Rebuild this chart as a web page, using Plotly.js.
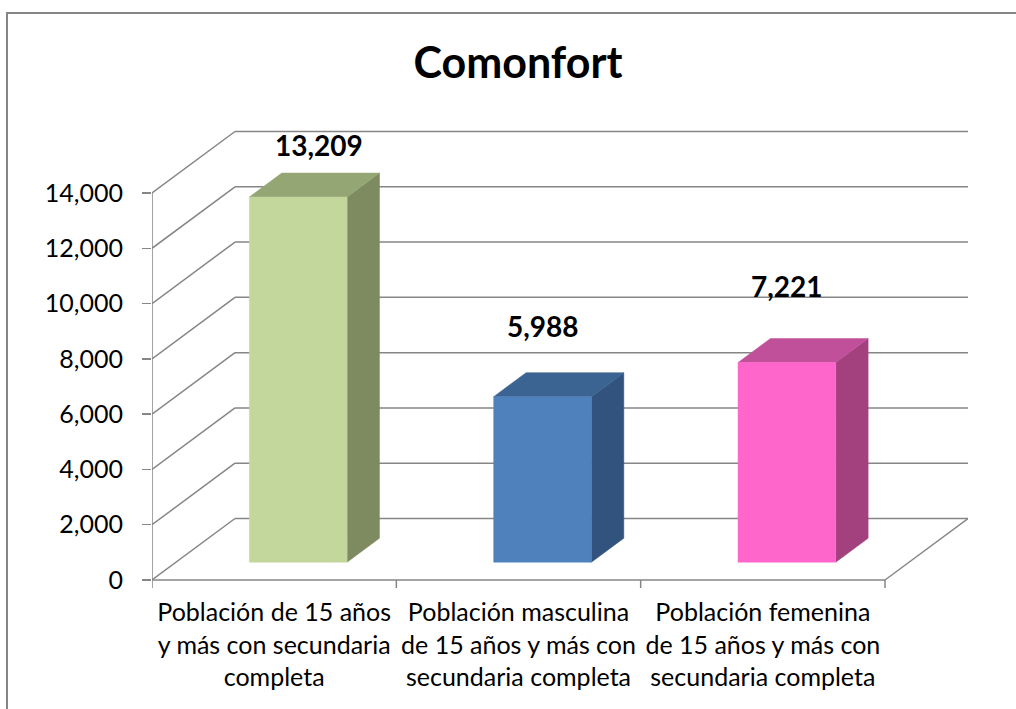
<!DOCTYPE html>
<html>
<head>
<meta charset="utf-8">
<script src="https://cdn.plot.ly/plotly-3.0.1.min.js"></script>
<style>
  html, body { margin: 0; padding: 0; background: #fff; }
  #chart { width: 1016px; height: 709px; }
</style>
</head>
<body>
<div id="chart"></div>
<script>
// ---- data ----
const categories = [
  'Población de 15 años<br>y más con secundaria<br>completa',
  'Población masculina<br>de 15 años y más con<br>secundaria completa',
  'Población femenina<br>de 15 años y más con<br>secundaria completa'
];
const values = [13209, 5988, 7221];
const yTicks = [0, 2000, 4000, 6000, 8000, 10000, 12000, 14000];
const chartTitle = 'Comonfort';

// ---- styles ----
const frontColors = ['#C3D69B', '#4F81BD', '#FF66CC'];
const sideColors  = ['#7E8A60', '#32537E', '#A3417F'];
const topColors   = ['#95A675', '#3C6492', '#C1509A'];
const gridColor = '#868686';
const FONT = 'Lato, "Open Sans", sans-serif';
// label offsets (pixels) above each bar's back top edge
const labelLift = [28, 47, 53];
const labelShiftX = [21, 0, 0];

// ---- geometry (oblique 3D projection) ----
const PX_PER_CAT = 733 / 3;
const K = 387 / 14000;              // px per value unit
const DEPTH_DX = 83 / PX_PER_CAT;   // category units for full depth
const DEPTH_DY = 61.5 / K;          // value units for full depth
const D_FRONT = 0.29, D_BACK = 0.68, HALF = 0.2;
const X0 = -0.5, X1 = categories.length - 0.5;

function P(cx, v, d) { return [cx + d * DEPTH_DX, v + d * DEPTH_DY]; }

const traces = [];

// grid lines
const gx = [], gy = [];
function seg(a, b) { gx.push(a[0], b[0], null); gy.push(a[1], b[1], null); }
const yMax = yTicks[yTicks.length - 1];
yTicks.forEach(v => {
  seg(P(X0, v, 1), P(X1, v, 1));   // back wall
  seg(P(X0, v, 0), P(X0, v, 1));   // left wall diagonal
});
seg(P(X0, 0, 0), P(X1, 0, 0));     // floor front edge
seg(P(X1, 0, 0), P(X1, 0, 1));     // floor right edge
seg(P(X0, 0, 0), P(X0, yMax, 0));  // value axis line
for (let i = 0; i <= categories.length; i++) {
  const b = X0 + i;
  seg(P(b, 0, 0), P(b, -8 / K, 0)); // category tick marks
}
traces.push({ x: gx, y: gy, mode: 'lines', type: 'scatter',
  line: { color: gridColor, width: 1.5 }, hoverinfo: 'skip', showlegend: false });

// bars
function poly(pts, color) {
  const xs = pts.map(p => p[0]), ys = pts.map(p => p[1]);
  xs.push(xs[0]); ys.push(ys[0]);
  traces.push({ x: xs, y: ys, type: 'scatter', mode: 'lines', fill: 'toself',
    fillcolor: color, line: { color: color, width: 0.5 },
    hoverinfo: 'skip', showlegend: false });
}
values.forEach((v, i) => {
  const l = i - HALF, r = i + HALF;
  poly([P(r, 0, D_FRONT), P(r, 0, D_BACK), P(r, v, D_BACK), P(r, v, D_FRONT)], sideColors[i]);
  poly([P(l, v, D_FRONT), P(r, v, D_FRONT), P(r, v, D_BACK), P(l, v, D_BACK)], topColors[i]);
  poly([P(l, 0, D_FRONT), P(r, 0, D_FRONT), P(r, v, D_FRONT), P(l, v, D_FRONT)], frontColors[i]);
});

// data labels
const annotations = values.map((v, i) => {
  const p = P(i, v, D_BACK);
  const pf = P(i, v, D_FRONT);
  return {
    x: pf[0], y: p[1], xref: 'x', yref: 'y',
    text: '<b>' + v.toLocaleString('en-US') + '</b>',
    showarrow: false, xanchor: 'center', yanchor: 'middle',
    xshift: labelShiftX[i], yshift: labelLift[i],
    font: { family: FONT, size: 28, color: '#000' }
  };
});

// plot area in pixels
const L = 152, R = 968, T = 120, B = 590;
const W = 1016, H = 709;
function paperX(px) { return (px - L) / (R - L); }
function paperY(py) { return (B - py) / (B - T); }

const layout = {
  width: W, height: H,
  margin: { l: L, r: W - R, t: T, b: H - B, pad: 0 },
  paper_bgcolor: '#fff', plot_bgcolor: 'rgba(0,0,0,0)',
  showlegend: false,
  title: {
    text: '<b>' + chartTitle + '</b>',
    font: { family: FONT, size: 43, color: '#000' },
    xref: 'container', yref: 'container',
    x: 518 / W, xanchor: 'center', y: 1 - 63 / H, yanchor: 'middle'
  },
  xaxis: {
    range: [X0, X0 + (R - L) / PX_PER_CAT], fixedrange: true,
    showgrid: false, zeroline: false, showline: false,
    tickvals: categories.map((c, i) => i), ticktext: categories,
    ticks: '', tickfont: { family: FONT, size: 25, color: '#000' },
    ticklabelstandoff: 5
  },
  yaxis: {
    range: [-(B - 580) / K, (580 - T) / K], fixedrange: true,
    showgrid: false, zeroline: false, showline: false,
    tickvals: yTicks, ticktext: yTicks.map(v => v.toLocaleString('en-US')),
    ticks: 'outside', ticklen: 9, tickwidth: 1.5, tickcolor: gridColor,
    tickfont: { family: FONT, size: 25, color: '#000' },
    ticklabelstandoff: 14
  },
  annotations: annotations,
  shapes: [{
    type: 'rect', xref: 'paper', yref: 'paper', layer: 'below',
    x0: paperX(7), x1: paperX(1030), y0: paperY(13), y1: paperY(730),
    line: { color: gridColor, width: 2 }, fillcolor: 'rgba(0,0,0,0)'
  }]
};

Plotly.newPlot('chart', traces, layout, { displayModeBar: false, staticPlot: true });
</script>
</body>
</html>
